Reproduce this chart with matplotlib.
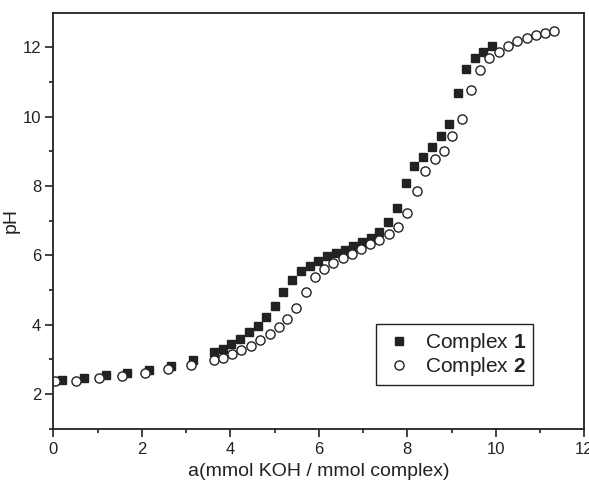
import numpy as np
import matplotlib.pyplot as plt

plt.rcParams['font.family'] = ['Liberation Sans', 'DejaVu Sans']
plt.rcParams['mathtext.fontset'] = 'custom'
plt.rcParams['mathtext.rm'] = 'Liberation Sans'
plt.rcParams['mathtext.bf'] = 'Liberation Sans:bold'

# titration data
x1 = [0.19, 0.70, 1.18, 1.66, 2.16, 2.66, 3.15, 3.63, 3.83, 4.02, 4.22, 4.42, 4.62,
      4.81, 5.01, 5.20, 5.40, 5.60, 5.80, 5.99, 6.18, 6.38, 6.58, 6.77, 6.97, 7.17,
      7.37, 7.57, 7.77, 7.96, 8.16, 8.35, 8.55, 8.75, 8.95, 9.15, 9.33, 9.52, 9.72, 9.91]
ph1 = [2.41, 2.47, 2.54, 2.60, 2.70, 2.82, 2.97, 3.20, 3.31, 3.43, 3.59, 3.78, 3.97,
       4.23, 4.55, 4.93, 5.30, 5.55, 5.70, 5.84, 5.97, 6.06, 6.16, 6.27, 6.38, 6.51,
       6.68, 6.96, 7.37, 8.08, 8.58, 8.84, 9.12, 9.43, 9.79, 10.67, 11.38, 11.69, 11.88, 12.03]

x2 = [0.03, 0.52, 1.03, 1.56, 2.08, 2.60, 3.11, 3.64, 3.84, 4.04, 4.25, 4.47, 4.68,
      4.89, 5.09, 5.29, 5.49, 5.71, 5.92, 6.12, 6.33, 6.54, 6.75, 6.95, 7.16, 7.36,
      7.58, 7.79, 8.00, 8.21, 8.41, 8.62, 8.82, 9.02, 9.24, 9.43, 9.65, 9.85, 10.07,
      10.27, 10.49, 10.70, 10.91, 11.11, 11.32]
ph2 = [2.37, 2.39, 2.46, 2.53, 2.61, 2.71, 2.83, 2.97, 3.05, 3.15, 3.27, 3.39, 3.55,
       3.72, 3.92, 4.17, 4.48, 4.95, 5.37, 5.60, 5.78, 5.92, 6.05, 6.18, 6.32, 6.45,
       6.61, 6.83, 7.21, 7.87, 8.42, 8.77, 9.01, 9.43, 9.94, 10.77, 11.36, 11.68, 11.88,
       12.04, 12.17, 12.27, 12.36, 12.41, 12.46]

ink = '#222222'

fig = plt.figure(figsize=(5.89, 4.88), dpi=100)
ax = fig.add_axes([0.0908, 0.1215, 0.9012, 0.8525])

ax.plot(x1, ph1, 's', color=ink, ms=5.6, mec=ink, label=r'Complex $\mathbf{1}$')
ax.plot(x2, ph2, 'o', mfc='white', mec=ink, mew=1.0, ms=6.6, label=r'Complex $\mathbf{2}$')

ax.set_xlim(0, 12)
ax.set_ylim(1, 13)
ax.set_xticks(np.arange(0, 13, 2))
ax.set_xticks(np.arange(1, 12, 2), minor=True)
ax.set_yticks(np.arange(2, 13, 2))
ax.set_yticks(np.arange(1, 13, 2), minor=True)

for s in ax.spines.values():
    s.set_linewidth(1.3)
    s.set_color(ink)
ax.tick_params(which='major', direction='out', length=5.8, width=1.2, color=ink,
               labelsize=12, labelcolor=ink, pad=3)
ax.tick_params(which='minor', direction='out', length=3.2, width=1.2, color=ink)
ax.tick_params(axis='x', which='major', pad=4)

ax.set_xlabel('a(mmol KOH / mmol complex)', fontsize=14, color=ink, labelpad=4)
ax.set_ylabel('pH', fontsize=14, color=ink, labelpad=2)

leg = ax.legend(loc='lower left', bbox_to_anchor=(0.607, 0.104), fontsize=15,
                frameon=True, fancybox=False, framealpha=1, edgecolor=ink,
                handletextpad=0.5, labelspacing=0.05, borderpad=0.35,
                handlelength=1.5, borderaxespad=0)
leg.get_frame().set_linewidth(1.0)
for t in leg.get_texts():
    t.set_color(ink)

fig.savefig('out.png', dpi=100)
